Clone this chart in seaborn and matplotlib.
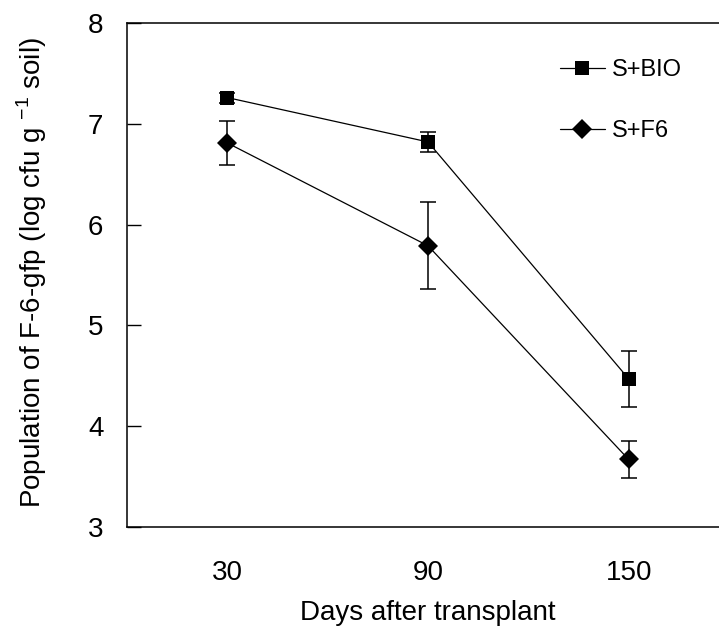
import numpy as np
import pandas as pd
import matplotlib
matplotlib.use("Agg")
import matplotlib.pyplot as plt
from matplotlib.lines import Line2D
import seaborn as sns

# data
DAYS      = ["30", "90", "150"]
BIO_MEAN  = [7.26, 6.82, 4.47]
BIO_ERR   = [0.05, 0.10, 0.28]
F6_MEAN   = [6.81, 5.79, 3.67]
F6_ERR    = [0.22, 0.43, 0.18]

df = pd.DataFrame({
    "Days": DAYS * 2,
    "Pop": BIO_MEAN + F6_MEAN,
    "Err": BIO_ERR + F6_ERR,
    "Treatment": ["S+BIO"] * 3 + ["S+F6"] * 3,
})

sns.set_style("white")
plt.rcParams["font.family"] = ["Liberation Sans", "DejaVu Sans"]
plt.rcParams.update({"text.color": "black", "axes.labelcolor": "black",
                     "xtick.color": "black", "ytick.color": "black",
                     "mathtext.fontset": "custom", "mathtext.rm": "Liberation Sans"})

fig = plt.figure(figsize=(7.19, 6.28), dpi=100)
ax = fig.add_axes([127 / 719, 101 / 628, 602 / 719, 504 / 628])

markers = {"S+BIO": "s", "S+F6": "D"}
x = np.arange(len(DAYS))

for name, grp in df.groupby("Treatment"):
    ax.errorbar(x, grp["Pop"].values, yerr=grp["Err"].values, fmt="none",
                ecolor="black", elinewidth=1.1, capsize=6, capthick=1.1, zorder=2)

sns.lineplot(data=df, x="Days", y="Pop", hue="Treatment", style="Treatment",
             markers=markers, dashes=False, palette=["black", "black"],
             markersize=10, linewidth=0.9, markeredgewidth=0,
             sort=False, ax=ax, legend=False, zorder=3)

ax.set_xlim(-0.5, 2.5)
ax.set_ylim(3, 8)
ax.set_yticks([3, 4, 5, 6, 7, 8])
ax.set_xticks(x)
ax.set_xticklabels(DAYS)
ax.set_xticks([0.5, 1.5], minor=True)
ax.tick_params(axis="x", which="major", length=0, pad=24, labelsize=20)
ax.tick_params(axis="x", which="minor", length=9, width=1, direction="in")
ax.tick_params(axis="y", which="major", length=10, width=1, direction="in",
               pad=17, labelsize=20, left=True)

for s in ["left", "bottom", "top"]:
    ax.spines[s].set_color("black")
    ax.spines[s].set_linewidth(1.1)
ax.spines["right"].set_visible(False)

ax.set_xlabel("Days after transplant", fontsize=20, labelpad=10)
ax.set_ylabel("Population of F-6-gfp (log cfu g $^{\\mathrm{-1}}$ soil)", fontsize=20)
ax.yaxis.set_label_coords(-0.13, 0.505)

handles = [
    Line2D([], [], color="black", lw=0.9, marker="s", ms=10, mew=0),
    Line2D([], [], color="black", lw=0.9, marker="D", ms=10, mew=0),
]
ax.legend(handles, ["S+BIO", "S+F6"], loc="upper left",
          bbox_to_anchor=(0.719, 0.928), frameon=False, fontsize=17,
          handlelength=1.9, handletextpad=0.3, labelspacing=1.66,
          borderpad=0, borderaxespad=0)

fig.savefig("out.png", dpi=100)
